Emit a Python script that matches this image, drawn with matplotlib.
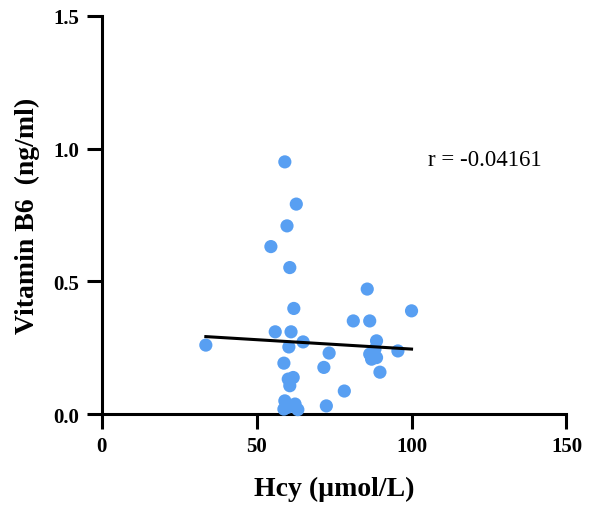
import numpy as np
import matplotlib
matplotlib.use("Agg")
import matplotlib.pyplot as plt

# Homocysteine (µmol/L) and vitamin B6 (ng/ml) per subject
hcy = [33.6, 59.1, 62.8, 59.8, 54.6, 60.7, 62.0, 56.0, 61.1, 60.4,
       65.0, 73.4, 58.8, 71.7, 60.2, 61.8, 60.7, 78.3, 59.1, 62.4,
       60.1, 63.3, 58.8, 72.5, 85.7, 81.2, 86.5, 100.0, 88.7, 88.2,
       86.5, 88.7, 87.1, 95.6, 89.8]
vit_b6 = [0.260, 0.950, 0.791, 0.709, 0.631, 0.552, 0.398, 0.310, 0.310, 0.253,
          0.272, 0.230, 0.192, 0.176, 0.132, 0.138, 0.107, 0.087, 0.050, 0.038,
          0.026, 0.017, 0.019, 0.031, 0.471, 0.351, 0.351, 0.389, 0.276, 0.245,
          0.226, 0.213, 0.207, 0.238, 0.158]
# Linear regression line as reported (value at the smallest and largest Hcy)
fit_b6 = [0.292, 0.245]
r_label = "r = -0.04161"
x_ticks = [0, 50, 100, 150]
y_ticks = [0.0, 0.5, 1.0, 1.5]

x = np.array(hcy)
y = np.array(vit_b6)

fig = plt.figure(figsize=(5.95, 5.10), dpi=100)
ax = fig.add_axes([0.171, 0.186, 0.781, 0.781])

serif = ["Liberation Serif", "DejaVu Serif"]

ax.scatter(x, y, s=90, color="#589FF2", edgecolors="none", zorder=3, clip_on=False)
ax.plot([x.min(), x.max()], fit_b6, color="black", lw=2.2, zorder=4)

ax.set_xlim(0, 150)
ax.set_ylim(0, 1.5)
ax.set_xticks(x_ticks)
ax.set_yticks(y_ticks)
ax.set_xticklabels([str(t) for t in x_ticks], fontfamily=serif, fontweight="bold", fontsize=15)
ax.set_yticklabels([f"{t:.1f}" for t in y_ticks], fontfamily=serif, fontweight="bold", fontsize=15)

for side in ("top", "right"):
    ax.spines[side].set_visible(False)
for side in ("left", "bottom"):
    ax.spines[side].set_linewidth(2.2)
ax.tick_params(axis="both", direction="out", length=11, width=2.2, pad=5)

ax.set_xlabel("Hcy (µmol/L)", fontfamily=serif, fontweight="bold", fontsize=20, labelpad=14)
ax.set_ylabel("Vitamin B6  (ng/ml)", fontfamily=serif, fontweight="bold", fontsize=20, labelpad=10)

ax.text(105.3, 0.96, r_label, fontfamily=serif, fontsize=16.5, va="center", ha="left")

fig.savefig("out.png", dpi=100)
